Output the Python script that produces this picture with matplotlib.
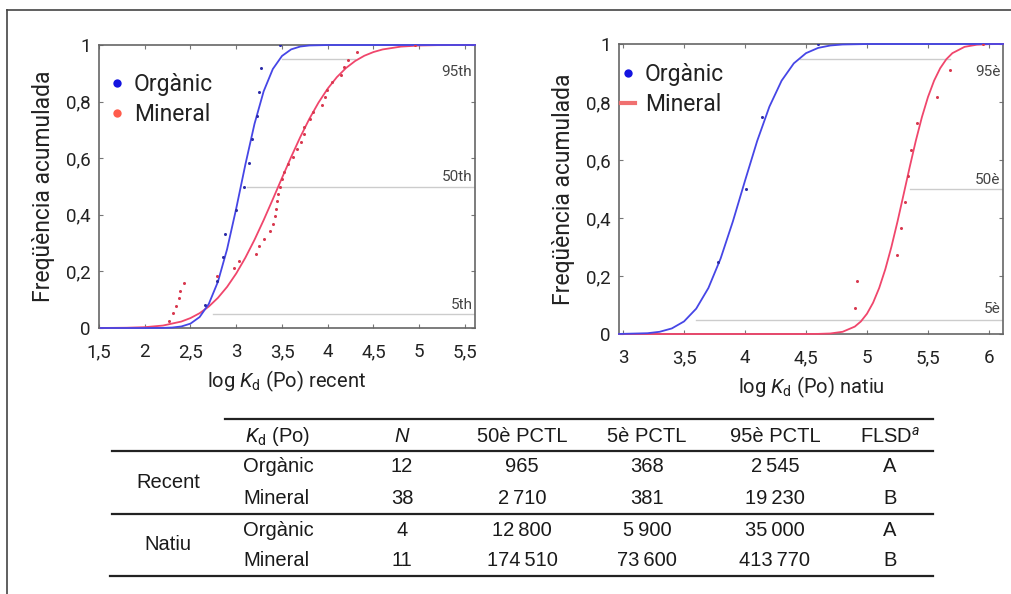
import matplotlib
matplotlib.use("Agg")
import matplotlib.pyplot as plt
from matplotlib.lines import Line2D
import matplotlib.transforms as mtransforms

plt.rcParams['font.family'] = ['Roboto', 'DejaVu Sans']
plt.rcParams['mathtext.fontset'] = 'custom'
plt.rcParams['mathtext.rm'] = 'Roboto'
plt.rcParams['mathtext.it'] = 'Roboto:italic'

# ---------------- DATA ----------------
series_names = ["Orgànic", "Mineral"]

# Recent: fitted CDF curves
rec_org_curve_x = [1.52, 2.0, 2.2, 2.3, 2.4, 2.5, 2.6, 2.7, 2.8, 2.9, 3.0, 3.1, 3.2, 3.3, 3.4, 3.5, 3.6, 3.7, 3.8, 4.0, 5.61]
rec_org_curve_y = [0.0, 0.0, 0.0004, 0.0016, 0.0054, 0.0155, 0.0388, 0.0849, 0.1635, 0.2783, 0.4223, 0.5777, 0.7217, 0.8365, 0.9151, 0.9612, 0.9845, 0.9946, 0.9984, 0.9999, 1.0]
rec_min_curve_x = [1.52, 1.8, 2.0, 2.2, 2.4, 2.5, 2.6, 2.7, 2.8, 2.9, 3.0, 3.1, 3.2, 3.3, 3.4, 3.5, 3.6, 3.7, 3.8, 3.9, 4.0, 4.1, 4.2, 4.3, 4.4, 4.5, 4.6, 4.8, 5.0, 5.2, 5.61]
rec_min_curve_y = [0.0001, 0.0009, 0.0029, 0.0087, 0.0228, 0.0351, 0.0523, 0.0758, 0.1066, 0.1453, 0.1927, 0.2485, 0.3118, 0.3814, 0.4550, 0.5301, 0.6041, 0.6747, 0.7395, 0.7968, 0.8459, 0.8864, 0.9187, 0.9435, 0.9620, 0.9751, 0.9843, 0.9943, 0.9982, 0.9995, 1.0]

# Recent: empirical points
rec_org_pts_x = [2.66, 2.79, 2.855, 2.88, 3.0, 3.08, 3.145, 3.17, 3.23, 3.25, 3.27, 3.48]
rec_org_pts_y = [0.083, 0.167, 0.250, 0.333, 0.417, 0.500, 0.583, 0.667, 0.750, 0.833, 0.917, 1.0]
rec_min_pts_x = [2.27, 2.31, 2.34, 2.37, 2.39, 2.43, 2.79, 2.975, 3.03, 3.22, 3.25, 3.30, 3.37, 3.40,
                 3.42, 3.44, 3.45, 3.46, 3.48, 3.50, 3.52, 3.57, 3.62, 3.66, 3.71, 3.74, 3.74, 3.81,
                 3.84, 3.94, 3.97, 3.99, 4.05, 4.14, 4.18, 4.22, 4.32, 4.95]
rec_min_pts_y = [0.026, 0.053, 0.079, 0.105, 0.132, 0.158, 0.184, 0.211, 0.237, 0.263, 0.289, 0.316,
                 0.342, 0.368, 0.395, 0.421, 0.447, 0.474, 0.500, 0.526, 0.553, 0.579, 0.605, 0.632,
                 0.658, 0.684, 0.711, 0.737, 0.763, 0.789, 0.816, 0.842, 0.868, 0.895, 0.921, 0.947,
                 0.974, 1.0]

# Natiu: fitted CDF curves
nat_org_curve_x = [2.967, 3.2, 3.3, 3.4, 3.5, 3.6, 3.7, 3.8, 3.9, 4.0, 4.1, 4.2, 4.3, 4.4, 4.5, 4.6, 4.7, 4.8, 5.0, 6.115]
nat_org_curve_y = [0.0002, 0.0027, 0.0076, 0.0192, 0.0433, 0.0874, 0.1587, 0.2602, 0.3875, 0.5285, 0.6659, 0.7840, 0.8735, 0.9332, 0.9684, 0.9866, 0.9949, 0.9983, 0.9999, 1.0]
nat_min_curve_x = [2.967, 4.4, 4.5, 4.6, 4.7, 4.8, 4.9, 4.95, 5.0, 5.05, 5.1, 5.15, 5.2, 5.25, 5.3, 5.35, 5.4, 5.45, 5.5, 5.55, 5.6, 5.65, 5.7, 5.8, 5.9, 6.0, 6.115]
nat_min_curve_y = [0.0, 0.0, 0.0001, 0.0004, 0.0018, 0.0076, 0.0255, 0.0433, 0.0700, 0.1079, 0.1587, 0.2231, 0.3002, 0.3875, 0.4810, 0.5754, 0.6659, 0.7475, 0.8172, 0.8735, 0.9164, 0.9473, 0.9684, 0.9902, 0.9975, 0.9995, 1.0]

# Natiu: empirical points
nat_org_pts_x = [3.78, 4.01, 4.14, 4.6]
nat_org_pts_y = [0.25, 0.50, 0.75, 1.0]
nat_min_pts_x = [4.90, 4.915, 5.25, 5.28, 5.31, 5.34, 5.36, 5.41, 5.57, 5.68, 5.95]
nat_min_pts_y = [0.091, 0.182, 0.273, 0.364, 0.455, 0.545, 0.636, 0.727, 0.818, 0.909, 1.0]

pct_levels = [0.05, 0.50, 0.95]
pct_labels_rec = ["5th", "50th", "95th"]
pct_labels_nat = ["5è", "50è", "95è"]

yticks = [0, 0.2, 0.4, 0.6, 0.8, 1]
ytick_labels = ["0", "0,2", "0,4", "0,6", "0,8", "1"]
xticks_rec = [1.5, 2, 2.5, 3, 3.5, 4, 4.5, 5, 5.5]
xtick_labels_rec = ["1,5", "2", "2,5", "3", "3,5", "4", "4,5", "5", "5,5"]
xticks_nat = [3, 3.5, 4, 4.5, 5, 5.5, 6]
xtick_labels_nat = ["3", "3,5", "4", "4,5", "5", "5,5", "6"]

ylabel = "Freqüència acumulada"
xlabel_rec = r"log $K_\mathrm{d}$ (Po) recent"
xlabel_nat = r"log $K_\mathrm{d}$ (Po) natiu"

# Table
table_header = [r"$K_\mathrm{d}$ (Po)", "N", "50è PCTL", "5è PCTL", "95è PCTL", r"FLSD$^{a}$"]
table_groups = ["Recent", "Natiu"]
table_types = ["Orgànic", "Mineral", "Orgànic", "Mineral"]
table_N = ["12", "38", "4", "11"]
table_p50 = ["965", "2\u2009710", "12\u2009800", "174\u2009510"]
table_p5 = ["368", "381", "5\u2009900", "73\u2009600"]
table_p95 = ["2\u2009545", "19\u2009230", "35\u2009000", "413\u2009770"]
table_flsd = ["A", "B", "A", "B"]

# ---------------- STYLE ----------------
W, H = 1012, 594
BLUE_LINE = "#4646e6"
RED_LINE = "#f0466c"
BLUE_PT = "#2b2ba8"
RED_PT = "#d8384e"
BLUE_LEG = "#1414e0"
RED_LEG = "#ff5c4c"
TXT = "#222222"

fig = plt.figure(figsize=(W / 100, H / 100), dpi=100)

def px_axes(l, t, r, b):
    return [l / W, 1 - b / H, (r - l) / W, (b - t) / H]

ax1 = fig.add_axes(px_axes(99, 45, 475, 328))
ax2 = fig.add_axes(px_axes(619, 44, 1003, 334))


def style_axes(ax, xticks, xlabels, xlim, xlabel):
    ax.set_xlim(*xlim)
    ax.set_ylim(0, 1)
    ax.set_xticks(xticks)
    ax.set_xticklabels(xlabels)
    ax.set_yticks(yticks)
    ax.set_yticklabels(ytick_labels)
    ax.tick_params(direction='in', top=True, right=True, length=3, width=0.8,
                   colors='#777777', labelcolor=TXT, labelsize=13.5)
    ax.tick_params(axis='x', pad=11)
    ax.tick_params(axis='y', pad=6)
    for s in ax.spines.values():
        s.set_color('#666666')
        s.set_linewidth(1.2)
    ax.set_ylabel(ylabel, fontsize=16.5, color=TXT, labelpad=8)
    ax.set_xlabel(xlabel, fontsize=14.5, color=TXT, labelpad=5)


style_axes(ax1, xticks_rec, xtick_labels_rec, (1.52, 5.61), xlabel_rec)
style_axes(ax2, xticks_nat, xtick_labels_nat, (2.967, 6.115), xlabel_nat)

# percentile lines
pct_spans_rec = [(2.75, 5.61), (3.12, 5.61), (3.5, 4.3)]
pct_spans_nat = [(3.6, 6.115), (5.35, 6.115), (4.45, 5.68)]
pct_text_y_rec = [0.081, 0.534, 0.905]
pct_text_y_nat = [0.086, 0.531, 0.903]
for ax, spans, labels, ty in [(ax1, pct_spans_rec, pct_labels_rec, pct_text_y_rec),
                              (ax2, pct_spans_nat, pct_labels_nat, pct_text_y_nat)]:
    trans = mtransforms.blended_transform_factory(ax.transAxes, ax.transData)
    for lvl, (x0, x1), lab, yy in zip(pct_levels, spans, labels, ty):
        ax.plot([x0, x1], [lvl, lvl], color='#cccccc', lw=1.0, zorder=1)
        ax.text(0.993, yy, lab, transform=trans, ha='right', va='center',
                fontsize=11, color='#444444')

# curves & points
ax1.plot(rec_min_curve_x, rec_min_curve_y, color=RED_LINE, lw=1.3, zorder=3, clip_on=False)
ax1.plot(rec_org_curve_x, rec_org_curve_y, color=BLUE_LINE, lw=1.3, zorder=3, clip_on=False)
ax1.plot(rec_org_pts_x, rec_org_pts_y, 'o', color=BLUE_PT, ms=2.2, mew=0, zorder=4)
ax1.plot(rec_min_pts_x, rec_min_pts_y, 'o', color=RED_PT, ms=2.2, mew=0, zorder=4)

ax2.plot(nat_min_curve_x, nat_min_curve_y, color=RED_LINE, lw=1.3, zorder=3, clip_on=False)
ax2.plot(nat_org_curve_x, nat_org_curve_y, color=BLUE_LINE, lw=1.3, zorder=3, clip_on=False)
ax2.plot(nat_org_pts_x, nat_org_pts_y, 'o', color=BLUE_PT, ms=2.2, mew=0, zorder=4)
ax2.plot(nat_min_pts_x, nat_min_pts_y, 'o', color=RED_PT, ms=2.2, mew=0, zorder=4)

# legends
h1 = [Line2D([], [], ls='none', marker='o', ms=6, color=BLUE_LEG, mew=0),
      Line2D([], [], ls='none', marker='o', ms=6, color=RED_LEG, mew=0)]
leg1 = ax1.legend(h1, series_names, loc='upper left', bbox_to_anchor=(0.029, 0.901),
                  frameon=False, fontsize=16.5, handlelength=0.6, handletextpad=0.45,
                  labelspacing=0.3, borderaxespad=0, borderpad=0)
h2 = [Line2D([], [], ls='none', marker='o', ms=6, color=BLUE_LEG, mew=0),
      Line2D([], [], ls='-', lw=3, color='#f07070')]
leg2 = ax2.legend(h2, series_names, loc='upper left', bbox_to_anchor=(0.005, 0.934),
                  frameon=False, fontsize=16.5, handlelength=0.6, handletextpad=0.45,
                  labelspacing=0.3, borderaxespad=0, borderpad=0)
for lg in (leg1, leg2):
    for t in lg.get_texts():
        t.set_color(TXT)

# ---------------- TABLE ----------------
def fx(x):
    return x / W

def fy(y):
    return 1 - y / H

tfont = dict(family=['Liberation Sans', 'DejaVu Sans'], fontsize=14.5, color='#1a1a1a')
col_x = [245, 402, 522, 647, 775, 890]
row_y = [467, 498, 530, 561]
header_y = 437

for i, (txt, x) in enumerate(zip(table_header, col_x)):
    kw = dict(tfont)
    if i == 1:
        kw['fontstyle'] = 'italic'
    fig.text(fx(x), fy(header_y), txt, ha='left' if i == 0 else 'center', va='center', **kw)

for r, y in enumerate(row_y):
    fig.text(fx(243), fy(y), table_types[r], ha='left', va='center', **tfont)
    vals = [table_N[r], table_p50[r], table_p5[r], table_p95[r], table_flsd[r]]
    for v, x in zip(vals, col_x[1:]):
        fig.text(fx(x), fy(y), v, ha='center', va='center', **tfont)

group_y = [483, 545]
for g, y in zip(table_groups, group_y):
    fig.text(fx(168), fy(y), g, ha='center', va='center', **tfont)

table_lines = [(225, 933, 419), (112, 933, 451), (112, 933, 514), (110, 933, 576)]
for x0, x1, y in table_lines:
    fig.add_artist(Line2D([fx(x0), fx(x1)], [fy(y), fy(y)], color='#222222', lw=1.6,
                          transform=fig.transFigure))

# outer frame (top and left only visible)
fig.add_artist(Line2D([fx(7), fx(W)], [fy(10), fy(10)], color='#444444', lw=1.2, transform=fig.transFigure))
fig.add_artist(Line2D([fx(7), fx(7)], [fy(10), fy(H)], color='#444444', lw=1.2, transform=fig.transFigure))

fig.savefig("out.png", dpi=100)
